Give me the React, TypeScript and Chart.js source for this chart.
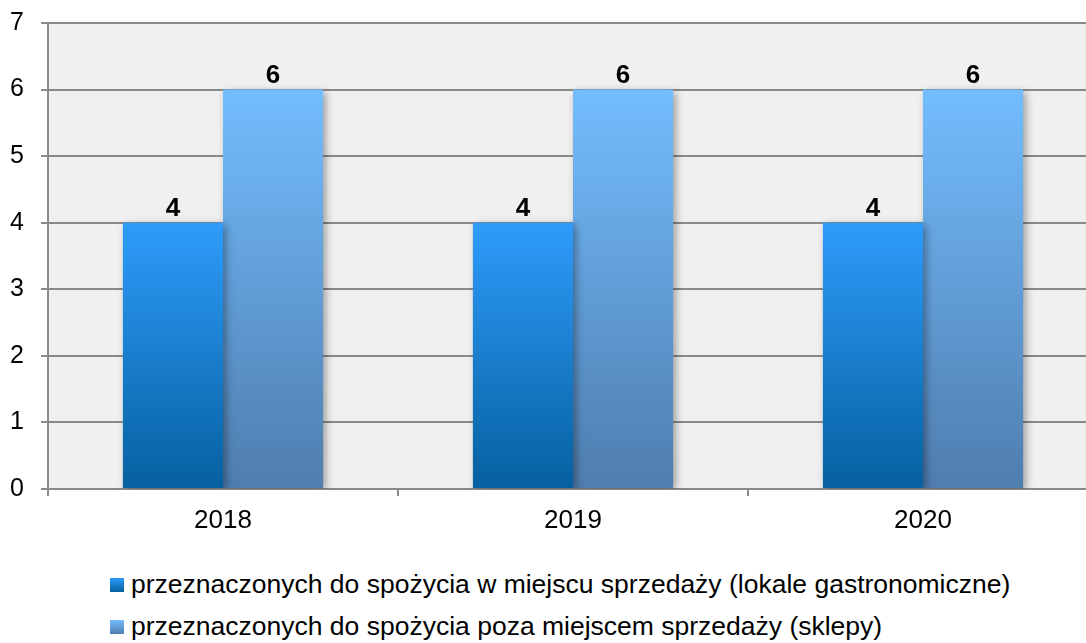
import React, { useEffect, useRef } from "react";
import { Chart, registerables } from "chart.js";

Chart.register(...registerables);

const categories = ["2018", "2019", "2020"];
const seriesNames = [
  "przeznaczonych do spożycia w miejscu sprzedaży (lokale gastronomiczne)",
  "przeznaczonych do spożycia poza miejscem sprzedaży (sklepy)",
];
const seriesOnSite = [4, 4, 4];
const seriesOffSite = [6, 6, 6];
const yTicks = [0, 1, 2, 3, 4, 5, 6, 7];

const FONT = "'Liberation Sans', Arial, sans-serif";
const GRID = "#8a8a8a";
const gradStops = [
  ["#2E9CFB", "#05609F"],
  ["#73BDFE", "#4F7DAE"],
];

function barGradient(ctx: any, idx: number) {
  const chart = ctx.chart;
  const y = chart.scales && chart.scales.y;
  if (!chart.chartArea || !y || ctx.raw == null) return gradStops[idx][0];
  const top = y.getPixelForValue(ctx.raw);
  const bottom = y.getPixelForValue(0);
  const g = chart.ctx.createLinearGradient(0, top, 0, bottom);
  g.addColorStop(0, gradStops[idx][0]);
  g.addColorStop(1, gradStops[idx][1]);
  return g;
}

const bgPlugin = {
  id: "plotBg",
  beforeDraw(chart: any) {
    const { ctx, chartArea } = chart;
    ctx.save();
    ctx.fillStyle = "#F0F0F0";
    ctx.fillRect(chartArea.left, chartArea.top, chartArea.right - chartArea.left, chartArea.bottom - chartArea.top);
    ctx.restore();
  },
  beforeDatasetsDraw(chart: any) {
    const ctx = chart.ctx;
    ctx.save();
    ctx.shadowColor = "rgba(0,0,0,0.35)";
    ctx.shadowBlur = 8;
    ctx.shadowOffsetX = 3;
    ctx.shadowOffsetY = 2;
  },
  afterDatasetsDraw(chart: any) {
    const ctx = chart.ctx;
    ctx.restore();
    ctx.save();
    ctx.fillStyle = "#000";
    ctx.font = `bold 26px ${FONT}`;
    ctx.textAlign = "center";
    ctx.textBaseline = "middle";
    chart.data.datasets.forEach((ds: any, di: number) => {
      const meta = chart.getDatasetMeta(di);
      meta.data.forEach((el: any, i: number) => {
        ctx.fillText(String(ds.data[i]), el.x, el.y - 13.5);
      });
    });
    ctx.restore();
  },
};

export default function App() {
  const ref = useRef<HTMLCanvasElement | null>(null);
  useEffect(() => {
    if (!ref.current) return;
    const chart = new Chart(ref.current, {
      type: "bar",
      data: {
        labels: categories,
        datasets: [
          {
            label: seriesNames[0],
            data: seriesOnSite,
            backgroundColor: (c: any) => barGradient(c, 0),
            barPercentage: 1,
            categoryPercentage: 0.572,
          },
          {
            label: seriesNames[1],
            data: seriesOffSite,
            backgroundColor: (c: any) => barGradient(c, 1),
            barPercentage: 1,
            categoryPercentage: 0.572,
          },
        ],
      },
      options: {
        animation: false,
        responsive: true,
        maintainAspectRatio: false,
        layout: { padding: { top: 23, right: 2, left: 0, bottom: 0 } },
        plugins: {
          legend: { display: false },
          tooltip: { enabled: false },
        },
        scales: {
          x: {
            offset: true,
            grid: {
              display: true,
              drawOnChartArea: false,
              drawTicks: true,
              tickLength: 7,
              color: GRID,
              lineWidth: 2,
            },
            border: { display: true, color: GRID, width: 2 },
            ticks: {
              font: { family: FONT, size: 26 },
              color: "#000",
              padding: 9,
            },
            afterFit: (s: any) => {
              s.height = 51;
              s.paddingLeft = 0;
              s.paddingRight = 0;
            },
          },
          y: {
            min: 0,
            max: 7,
            afterBuildTicks: (s: any) => {
              s.ticks = yTicks.map((v) => ({ value: v }));
            },
            grid: {
              color: GRID,
              lineWidth: 2,
              drawTicks: true,
              tickLength: 7,
            },
            border: { display: true, color: GRID, width: 2 },
            ticks: {
              font: { family: FONT, size: 25 },
              color: "#000",
              padding: 17,
            },
            afterFit: (s: any) => {
              s.width = 48;
              s.paddingTop = 0;
              s.paddingBottom = 0;
            },
          },
        },
      },
      plugins: [bgPlugin],
    });
    return () => chart.destroy();
  }, []);

  const legendRow = (i: number, top: number) => (
    <div
      key={i}
      style={{
        position: "absolute",
        left: 110,
        top,
        height: 24,
        display: "flex",
        alignItems: "center",
        whiteSpace: "nowrap",
      }}
    >
      <span
        style={{
          display: "inline-block",
          width: 14,
          height: 14,
          marginRight: 7,
          marginTop: 2,
          background: `linear-gradient(${gradStops[i][0]}, ${gradStops[i][1]})`,
        }}
      />
      <span style={{ font: `26.5px ${FONT}`, lineHeight: "24px", color: "#000" }}>{seriesNames[i]}</span>
    </div>
  );

  return (
    <div
      style={{
        position: "absolute",
        left: 0,
        top: 0,
        width: 1086,
        height: 643,
        overflow: "hidden",
        background: "#fff",
      }}
    >
      <div style={{ position: "absolute", left: 0, top: 0, width: 1100, height: 540 }}>
        <canvas ref={ref} />
      </div>
      {legendRow(0, 572)}
      {legendRow(1, 614)}
    </div>
  );
}
